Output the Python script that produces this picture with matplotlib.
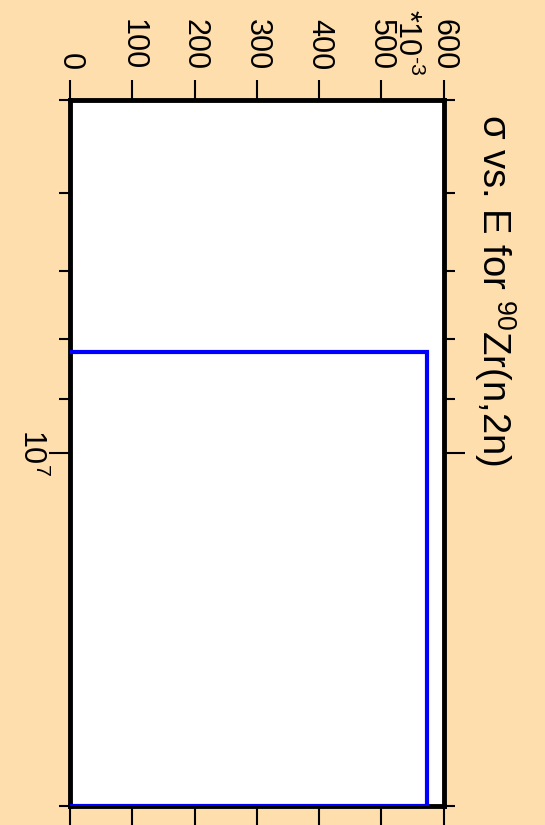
import matplotlib
matplotlib.use("Agg")
import matplotlib.pyplot as plt

plt.rcParams['font.family'] = ['Liberation Sans', 'DejaVu Sans']
plt.rcParams['mathtext.fontset'] = 'custom'
plt.rcParams['mathtext.rm'] = 'Liberation Sans'
plt.rcParams['mathtext.it'] = 'Liberation Sans:italic'
plt.rcParams['mathtext.bf'] = 'Liberation Sans:bold'

# Data (energy in eV, cross-section in units of 1e-3 b)
energy = [8.2e6, 8.2e6, 2.0e7, 2.0e7]
sigma = [0, 574, 574, 0]

sigma_ticks = [0, 100, 200, 300, 400, 500, 600]
sigma_tick_labels = ["0", "100", "200", "300", "400", "500", "600"]
energy_major_ticks = [1e7]
energy_major_labels = [r"10$^{7}$"]
energy_minor_ticks = [5e6, 6e6, 7e6, 8e6, 9e6, 2e7]
title_text = r"σ vs. E for $^{90}$Zr(n,2n)"
scale_text = r"*10$^{\text{-3}}$"

W, H = 545, 825
fig = plt.figure(figsize=(W / 100, H / 100), dpi=100, facecolor='#FFDEAD')
ax = fig.add_axes([70 / W, 1 - 806 / H, 373.5 / W, 706 / H])
ax.set_facecolor('white')

ax.plot(sigma, energy, color='#0000FF', lw=3.0, zorder=3, solid_joinstyle='miter')

ax.set_yscale('log')
ax.set_xlim(0, 600)
ax.set_ylim(2e7, 5e6)

ax.set_xticks(sigma_ticks)
ax.set_xticklabels(sigma_tick_labels)
ax.set_yticks(energy_major_ticks)
ax.set_yticklabels(energy_major_labels)
ax.set_yticks(energy_minor_ticks, minor=True)
ax.set_yticklabels([""] * len(energy_minor_ticks), minor=True)

for s in ax.spines.values():
    s.set_linewidth(3.5)
    s.set_color('black')

ax.tick_params(axis='x', which='major', direction='out', length=14.5, width=1.5,
               top=True, bottom=True, labeltop=True, labelbottom=False,
               labelsize=22, pad=7, labelrotation=-90)
ax.tick_params(axis='y', which='major', direction='out', length=15, width=1.5,
               left=True, right=True, labelleft=True, labelright=False,
               labelsize=22, pad=1, labelrotation=-90)
ax.tick_params(axis='y', which='minor', direction='out', length=7.7, width=1.5,
               left=True, right=True)
for lab in ax.get_yticklabels():
    lab.set_va('center')

fig.text(495 / W, 1 - 114 / H, title_text, rotation=-90, fontsize=27.5,
         ha='center', va='top')
fig.text(407 / W, 1 - 9 / H, scale_text, rotation=-90, fontsize=22,
         ha='center', va='top')

fig.savefig('out.png', dpi=100, facecolor=fig.get_facecolor())
